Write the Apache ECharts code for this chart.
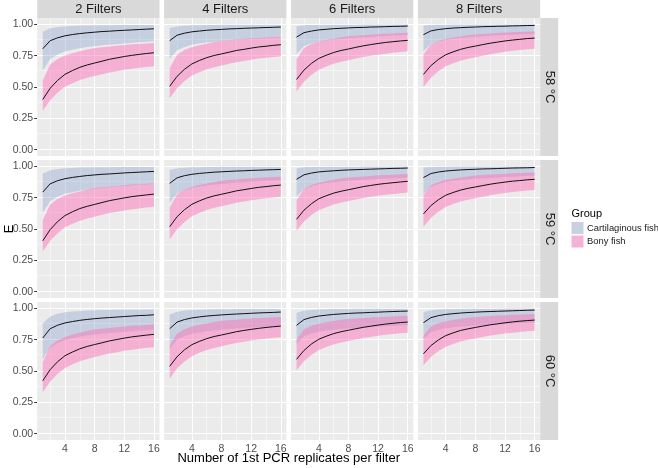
<!DOCTYPE html>
<html><head><meta charset="utf-8">
<script src="https://cdn.jsdelivr.net/npm/echarts@6/dist/echarts.min.js"></script>
<style>html,body{margin:0;padding:0;background:#fff}#c{width:658px;height:468px}</style>
</head><body><div id="c"></div>
<script>
// ---------- data ----------
const xValues = [1,2,3,4,5,6,7,8,9,10,11,12,13,14,15,16];
const filterLabels = ['2 Filters','4 Filters','6 Filters','8 Filters'];
const tempLabels = ['58 °C','59 °C','60 °C'];
const groupNames = ['Cartilaginous fish','Bony fish'];
const xTicks = [4,8,12,16];
const yTicks = [0,0.25,0.5,0.75,1];
const xMinor = [2,6,10,14];
const yMinor = [0.125,0.375,0.625,0.875];
const xTitle = 'Number of 1st PCR replicates per filter';
const yTitle = 'E';
const legendTitle = 'Group';

// rows inside each array: 2, 4, 6, 8 filters
const cart58Mean = [
[.805,.869,.892,.908,.918,.926,.932,.937,.942,.945,.949,.952,.955,.958,.961,.964],
[.869,.913,.929,.940,.946,.952,.956,.959,.963,.965,.968,.970,.972,.974,.976,.978],
[.898,.933,.946,.955,.960,.965,.968,.971,.974,.975,.978,.979,.981,.983,.984,.986],
[.917,.947,.958,.965,.970,.973,.976,.978,.981,.982,.984,.985,.987,.988,.990,.991]];
const cart58Upper = [
[.940,.968,.979,.984,.987,.990,.991,.992,.993,.993,.994,.994,.994,.995,.995,.995],
[.970,.984,.989,.992,.993,.994,.995,.996,.996,.996,.996,.997,.997,.997,.997,.997],
[.985,.992,.994,.995,.996,.997,.997,.997,.997,.998,.998,.998,.998,.998,.998,.998],
[.990,.995,.996,.997,.998,.998,.998,.999,.999,.999,.999,.999,.999,.999,.999,.999]];
const cart58Lower = [
[.630,.724,.759,.783,.797,.809,.818,.825,.832,.837,.843,.847,.852,.857,.860,.865],
[.725,.793,.819,.836,.846,.854,.861,.866,.871,.875,.879,.882,.886,.889,.892,.895],
[.763,.824,.847,.862,.871,.879,.885,.889,.894,.897,.901,.904,.907,.910,.912,.915],
[.784,.840,.862,.876,.884,.891,.897,.901,.905,.908,.912,.914,.917,.920,.922,.925]];
const bony58Mean = [
[.400,.490,.553,.601,.631,.657,.676,.691,.706,.721,.732,.743,.752,.760,.767,.773],
[.505,.585,.641,.684,.711,.734,.751,.764,.777,.791,.800,.810,.819,.825,.832,.837],
[.560,.635,.688,.728,.753,.775,.791,.803,.816,.828,.838,.847,.855,.861,.867,.872],
[.600,.670,.719,.757,.780,.800,.815,.826,.838,.849,.858,.867,.874,.880,.886,.890]];
const bony58Upper = [
[.550,.679,.724,.751,.769,.784,.799,.811,.817,.823,.829,.835,.840,.843,.847,.850],
[.650,.758,.795,.818,.833,.845,.858,.868,.873,.878,.883,.888,.891,.894,.898,.900],
[.720,.811,.843,.862,.875,.885,.896,.904,.909,.913,.917,.921,.925,.927,.930,.932],
[.760,.839,.866,.883,.894,.903,.912,.919,.923,.927,.930,.934,.937,.938,.941,.943]];
const bony58Lower = [
[.310,.395,.456,.502,.530,.555,.573,.587,.601,.615,.626,.637,.645,.653,.660,.665],
[.410,.490,.547,.591,.618,.641,.658,.671,.685,.698,.708,.718,.727,.733,.740,.745],
[.465,.542,.596,.637,.663,.685,.701,.714,.727,.739,.749,.758,.766,.773,.779,.784],
[.500,.573,.625,.665,.689,.710,.726,.738,.750,.762,.771,.781,.788,.794,.800,.805]];

const cart59Mean = [
[.794,.860,.885,.901,.911,.919,.926,.931,.936,.939,.943,.947,.950,.953,.956,.959],
[.864,.908,.925,.936,.943,.948,.953,.956,.959,.962,.964,.967,.969,.971,.973,.975],
[.896,.932,.946,.955,.960,.964,.968,.971,.973,.975,.977,.979,.981,.983,.984,.986],
[.910,.942,.954,.962,.967,.971,.974,.976,.979,.980,.982,.984,.986,.987,.988,.990]];
const cart59Upper = [
[.940,.968,.979,.984,.987,.990,.991,.992,.993,.993,.994,.994,.994,.995,.995,.995],
[.970,.984,.989,.992,.993,.994,.995,.996,.996,.996,.996,.997,.997,.997,.997,.997],
[.985,.992,.994,.995,.996,.997,.997,.997,.997,.998,.998,.998,.998,.998,.998,.998],
[.990,.995,.996,.997,.998,.998,.998,.999,.999,.999,.999,.999,.999,.999,.999,.999]];
const cart59Lower = [
[.630,.722,.757,.780,.793,.805,.814,.821,.828,.832,.838,.843,.847,.852,.855,.860],
[.710,.782,.809,.827,.838,.847,.854,.859,.865,.868,.873,.877,.880,.884,.886,.890],
[.757,.818,.841,.856,.866,.873,.879,.884,.889,.892,.895,.899,.902,.905,.907,.910],
[.778,.837,.859,.874,.882,.890,.896,.900,.904,.907,.911,.914,.917,.920,.922,.925]];
const bony59Mean = [
[.406,.495,.559,.607,.637,.663,.681,.696,.711,.726,.737,.748,.758,.765,.772,.778],
[.518,.598,.654,.697,.724,.747,.764,.777,.790,.804,.813,.823,.832,.838,.845,.850],
[.577,.650,.701,.741,.765,.786,.801,.813,.825,.838,.847,.856,.863,.869,.875,.880],
[.620,.686,.733,.769,.791,.810,.824,.835,.846,.857,.866,.874,.881,.886,.892,.896]];
const bony59Upper = [
[.570,.696,.741,.767,.785,.799,.814,.826,.832,.838,.843,.849,.854,.857,.861,.864],
[.670,.776,.813,.835,.850,.863,.875,.885,.890,.895,.900,.905,.908,.911,.915,.917],
[.730,.819,.851,.869,.882,.892,.903,.911,.915,.919,.923,.928,.931,.933,.936,.938],
[.770,.847,.874,.891,.901,.910,.919,.927,.930,.934,.937,.941,.944,.946,.948,.950]];
const bony59Lower = [
[.320,.406,.466,.513,.541,.566,.584,.598,.613,.627,.638,.648,.657,.664,.672,.677],
[.417,.499,.556,.601,.628,.652,.669,.682,.696,.709,.720,.730,.738,.745,.752,.757],
[.486,.559,.611,.650,.674,.696,.711,.723,.735,.747,.757,.766,.773,.779,.785,.790],
[.518,.588,.638,.676,.699,.719,.734,.746,.757,.769,.778,.787,.794,.800,.806,.810]];

const cart60Mean = [
[.763,.837,.865,.883,.894,.904,.911,.917,.922,.926,.930,.934,.938,.942,.944,.948],
[.837,.890,.910,.923,.931,.938,.943,.947,.951,.954,.957,.960,.963,.965,.967,.970],
[.864,.910,.927,.938,.945,.951,.955,.959,.962,.964,.967,.969,.972,.974,.976,.978],
[.885,.925,.941,.951,.957,.962,.966,.969,.972,.974,.976,.978,.980,.982,.984,.986]];
const cart60Upper = [
[.880,.935,.957,.968,.975,.979,.982,.985,.986,.987,.988,.988,.989,.989,.990,.990],
[.950,.973,.982,.986,.989,.991,.992,.993,.993,.994,.994,.994,.995,.995,.995,.995],
[.965,.981,.987,.991,.993,.994,.995,.995,.996,.996,.996,.997,.997,.997,.997,.997],
[.970,.984,.990,.992,.994,.995,.996,.997,.997,.997,.997,.998,.998,.998,.998,.998]];
const cart60Lower = [
[.593,.688,.723,.747,.761,.773,.783,.790,.797,.802,.807,.812,.817,.822,.825,.830],
[.677,.750,.778,.796,.807,.816,.823,.829,.834,.838,.843,.846,.850,.854,.856,.860],
[.717,.776,.798,.813,.822,.829,.835,.840,.844,.847,.851,.854,.857,.860,.862,.865],
[.757,.808,.827,.840,.848,.854,.859,.863,.867,.870,.873,.875,.878,.881,.882,.885]];
const bony60Mean = [
[.422,.511,.574,.622,.651,.677,.696,.711,.725,.740,.751,.762,.772,.779,.786,.792],
[.537,.614,.669,.710,.736,.758,.775,.787,.800,.813,.823,.832,.840,.847,.853,.858],
[.593,.664,.715,.753,.777,.798,.813,.825,.837,.848,.857,.866,.874,.880,.886,.890],
[.637,.702,.747,.782,.804,.823,.836,.847,.858,.868,.876,.884,.891,.897,.902,.906]];
const bony60Upper = [
[.570,.699,.744,.771,.789,.804,.819,.831,.837,.843,.849,.855,.860,.863,.867,.870],
[.700,.799,.833,.854,.868,.879,.891,.900,.905,.909,.914,.919,.922,.924,.928,.930],
[.750,.832,.860,.877,.889,.898,.908,.915,.919,.923,.927,.931,.933,.935,.938,.940],
[.780,.855,.881,.897,.907,.916,.924,.931,.935,.938,.942,.945,.948,.950,.952,.954]];
const bony60Lower = [
[.330,.416,.478,.524,.553,.578,.596,.611,.625,.640,.650,.661,.670,.677,.685,.690],
[.440,.519,.575,.618,.645,.668,.684,.697,.711,.724,.734,.744,.752,.758,.765,.770],
[.505,.577,.628,.667,.691,.712,.727,.739,.751,.763,.772,.781,.789,.795,.801,.805],
[.545,.611,.658,.694,.716,.735,.749,.760,.771,.782,.790,.798,.805,.810,.816,.820]];

// ---------- assembly ----------
const rowsData = [
  {cm: cart58Mean, cu: cart58Upper, cl: cart58Lower, bm: bony58Mean, bu: bony58Upper, bl: bony58Lower},
  {cm: cart59Mean, cu: cart59Upper, cl: cart59Lower, bm: bony59Mean, bu: bony59Upper, bl: bony59Lower},
  {cm: cart60Mean, cu: cart60Upper, cl: cart60Lower, bm: bony60Mean, bu: bony60Upper, bl: bony60Lower}
];

const FONT = '"Liberation Sans", Arial, Helvetica, sans-serif';
const L0 = 37.2, PW = 122.3, CSTEP = 126.9;
const T0 = 18, PH = 138, RSTEP = 142;
const BLUE = 'rgba(120,150,200,0.32)';
const PINK = 'rgba(255,105,180,0.45)';
const BLUE_KEY = '#C9D1E1';
const PINK_KEY = '#F5B2D6';

const grids = [], xAxes = [], yAxes = [], series = [], graphics = [];

const gridMarkData = [];
xTicks.forEach(v => gridMarkData.push({xAxis: v, lineStyle: {color: '#fff', width: 1.1, type: 'solid'}}));
xMinor.forEach(v => gridMarkData.push({xAxis: v, lineStyle: {color: '#fff', width: 0.5, type: 'solid'}}));
yTicks.forEach(v => gridMarkData.push({yAxis: v, lineStyle: {color: '#fff', width: 1.1, type: 'solid'}}));
yMinor.forEach(v => gridMarkData.push({yAxis: v, lineStyle: {color: '#fff', width: 0.5, type: 'solid'}}));

function ribbonRender(fill) {
  return function (params, api) {
    if (params.dataIndex !== 0) return null;
    const n = xValues.length;
    const pts = [];
    for (let i = 0; i < n; i++) pts.push(api.coord([api.value(0, i), api.value(2, i)]));
    for (let i = n - 1; i >= 0; i--) pts.push(api.coord([api.value(0, i), api.value(1, i)]));
    return {type: 'polygon', shape: {points: pts}, style: {fill: fill, stroke: null}};
  };
}

let gi = 0;
for (let r = 0; r < 3; r++) {
  for (let c = 0; c < 4; c++) {
    const left = L0 + c * CSTEP, top = T0 + r * RSTEP;
    grids.push({left, top, width: PW, height: PH, show: true, backgroundColor: '#EBEBEB', borderWidth: 0, containLabel: false});
    xAxes.push({
      gridIndex: gi, type: 'value', min: 0.25, max: 16.75,
      axisLine: {show: false},
      splitLine: {show: false},
      axisTick: {show: r === 2, length: 3, customValues: xTicks, lineStyle: {color: '#333', width: 1}},
      axisLabel: {show: r === 2, customValues: xTicks, margin: 4, fontSize: 10.5, color: '#4D4D4D', fontFamily: FONT, formatter: v => String(v)}
    });
    yAxes.push({
      gridIndex: gi, type: 'value', min: -0.05, max: 1.05,
      axisLine: {show: false},
      splitLine: {show: false},
      axisTick: {show: c === 0, length: 3, customValues: yTicks, lineStyle: {color: '#333', width: 1}},
      axisLabel: {show: c === 0, customValues: yTicks, margin: 4, fontSize: 10.5, color: '#4D4D4D', fontFamily: FONT, formatter: v => v.toFixed(2)}
    });
    const d = rowsData[r];
    const cl = d.cl[c], cu = d.cu[c], cm = d.cm[c];
    const bl = d.bl[c], bu = d.bu[c], bm = d.bm[c];
    const ax = {xAxisIndex: gi, yAxisIndex: gi, silent: true, animation: false};
    // cartilaginous ribbon
    series.push(Object.assign({}, ax, {
      type: 'custom', name: groupNames[0], z: 3, clip: true,
      data: xValues.map((x, i) => [x, cl[i], cu[i]]),
      encode: {x: 0, y: [1, 2]},
      renderItem: ribbonRender(BLUE),
      itemStyle: {color: BLUE_KEY}
    }));
    // bony ribbon
    series.push(Object.assign({}, ax, {
      type: 'custom', name: groupNames[1], z: 4, clip: true,
      data: xValues.map((x, i) => [x, bl[i], bu[i]]),
      encode: {x: 0, y: [1, 2]},
      renderItem: ribbonRender(PINK),
      itemStyle: {color: PINK_KEY}
    }));
    // mean lines (first one also carries the panel grid lines)
    series.push(Object.assign({}, ax, {
      type: 'line', symbol: 'none', name: 'cm' + gi, z: 5,
      data: xValues.map((x, i) => [x, cm[i]]),
      lineStyle: {color: '#111', width: 1},
      markLine: {silent: true, symbol: ['none', 'none'], z: 1, animation: false, label: {show: false}, emphasis: {disabled: true}, data: gridMarkData}
    }));
    series.push(Object.assign({}, ax, {
      type: 'line', symbol: 'none', name: 'bm' + gi, z: 5,
      data: xValues.map((x, i) => [x, bm[i]]),
      lineStyle: {color: '#111', width: 1}
    }));
    gi++;
  }
}

// strips
for (let c = 0; c < 4; c++) {
  const left = L0 + c * CSTEP;
  graphics.push({type: 'rect', shape: {x: left, y: 0, width: PW, height: T0}, style: {fill: '#D9D9D9'}, z: 1});
  graphics.push({type: 'text', x: left + PW / 2, y: T0 / 2 + 0.5, style: {text: filterLabels[c], fill: '#1A1A1A', fontSize: 13, fontFamily: FONT, textAlign: 'center', textVerticalAlign: 'middle'}, z: 2});
}
const stripX = L0 + 3 * CSTEP + PW;
for (let r = 0; r < 3; r++) {
  const top = T0 + r * RSTEP;
  graphics.push({type: 'rect', shape: {x: stripX, y: top, width: 18, height: PH}, style: {fill: '#D9D9D9'}, z: 1});
  graphics.push({type: 'text', x: stripX + 9.5, y: top + PH / 2, rotation: -Math.PI / 2, style: {text: tempLabels[r], fill: '#1A1A1A', fontSize: 13, fontFamily: FONT, textAlign: 'center', textVerticalAlign: 'middle'}, z: 2});
}
// axis titles
graphics.push({type: 'text', x: L0 + (3 * CSTEP + PW) / 2, y: 458, style: {text: xTitle, fill: '#000', fontSize: 13, fontFamily: FONT, textAlign: 'center', textVerticalAlign: 'middle'}});
graphics.push({type: 'text', x: 9, y: T0 + (2 * RSTEP + PH) / 2, rotation: Math.PI / 2, style: {text: yTitle, fill: '#000', fontSize: 13, fontFamily: FONT, textAlign: 'center', textVerticalAlign: 'middle'}});
// legend
graphics.push({type: 'text', x: 571.5, y: 214, style: {text: legendTitle, fill: '#000', fontSize: 11, fontFamily: FONT, textAlign: 'left', textVerticalAlign: 'middle'}});
const keyColors = [BLUE_KEY, PINK_KEY];
groupNames.forEach((nm, k) => {
  const ky = 222 + k * 13.5;
  graphics.push({type: 'rect', shape: {x: 571.5, y: ky, width: 12, height: 12}, style: {fill: keyColors[k]}});
  graphics.push({type: 'text', x: 587, y: ky + 6, style: {text: nm, fill: '#1A1A1A', fontSize: 9.4, fontFamily: FONT, textAlign: 'left', textVerticalAlign: 'middle'}});
});

const chart = echarts.init(document.getElementById('c'), null, {renderer: 'canvas'});
chart.setOption({
  animation: false,
  backgroundColor: '#fff',
  grid: grids, xAxis: xAxes, yAxis: yAxes, series,
  graphic: graphics
});
</script></body></html>
